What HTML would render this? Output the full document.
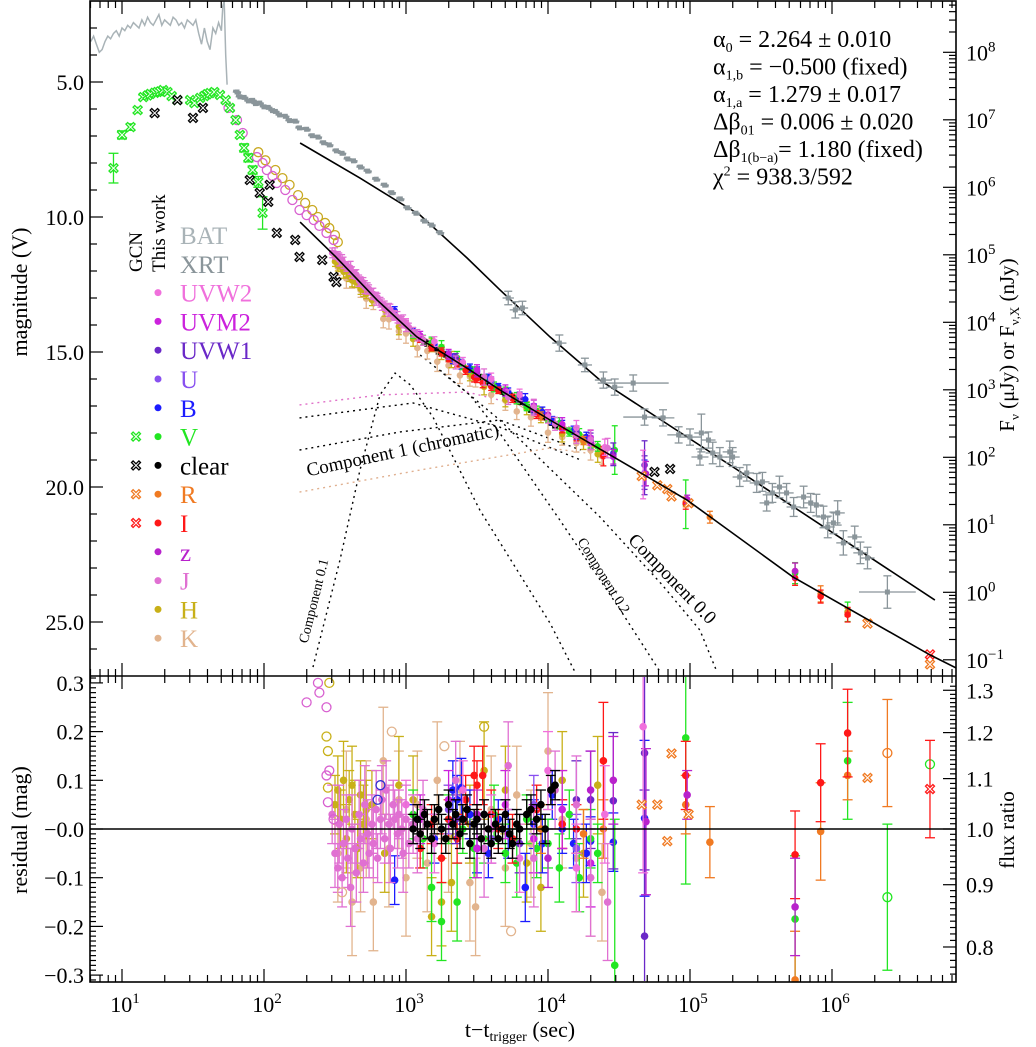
<!DOCTYPE html>
<html><head><meta charset="utf-8"><style>
html,body{margin:0;padding:0;background:#fff;overflow:hidden;width:1036px;height:1047px;}
svg{display:block;font-family:"Liberation Serif",serif;}
</style></head><body>
<svg id="chart" width="1036" height="1047" viewBox="0 0 1036 1047" xmlns="http://www.w3.org/2000/svg">
<defs>
<clipPath id="cm"><rect x="90" y="1" width="866" height="675"/></clipPath>
<clipPath id="cr"><rect x="90" y="676" width="866" height="306"/></clipPath>
</defs>
</svg>
<script>
// ---- data arrays (log10 t [s], magnitude) ----
const batT=[0.78,0.80,0.82,0.84,0.86,0.88,0.90,0.92,0.94,0.96,0.98,1.00,1.02,1.04,1.06,1.08,1.10,1.12,1.14,1.16,1.18,1.20,1.22,1.24,1.26,1.28,1.30,1.32,1.34,1.36,1.38,1.40,1.42,1.44,1.46,1.48,1.50,1.52,1.54,1.56,1.58,1.60,1.62,1.64,1.66,1.68,1.70,1.71,1.72,1.73,1.74];
const batM=[3.5,3.3,3.6,3.9,3.8,3.5,3.3,3.4,3.2,3.1,3.3,3.0,3.1,2.9,3.0,2.8,2.9,3.0,2.7,2.9,2.6,2.8,2.9,2.7,2.5,2.9,2.7,2.8,2.9,2.6,2.7,2.9,2.8,3.0,2.7,2.8,2.9,2.7,3.2,3.6,3.0,3.5,3.8,3.0,3.2,2.8,3.1,2.2,2.0,4.0,5.1];
const xrtT=[1.81,1.83,1.86,1.89,1.92,1.94,1.97,2.00,2.03,2.06,2.08,2.11,2.15,2.18,2.22,2.25,2.30,2.34,2.38,2.42,2.46,2.51,2.55,2.59,2.63,2.68,2.73,2.79,2.85,2.90,2.96,3.01,3.07,3.13,3.18,3.24,
 3.72,3.77,3.82,4.08,4.26,4.39,4.47,4.60,4.68,4.81,4.92,5.00,5.07,5.08,5.13,5.16,5.21,5.28,5.30,5.35,5.40,5.47,5.51,5.54,5.58,5.63,5.68,5.73,5.80,5.85,5.89,5.94,5.97,6.01,6.04,6.08,6.16,6.20,6.25,6.39];
const xrtM=[5.37,5.55,5.57,5.70,5.68,5.80,5.78,5.92,5.94,6.06,6.09,6.22,6.27,6.43,6.45,6.70,6.75,6.99,7.04,7.25,7.33,7.55,7.64,7.85,7.92,8.15,8.30,8.60,8.82,9.10,9.33,9.66,9.86,10.15,10.30,10.58,
 13.00,13.44,13.37,14.67,15.48,16.04,16.30,16.15,17.41,17.44,18.07,18.15,18.89,18.00,18.26,18.74,18.89,18.70,18.89,19.63,19.48,19.85,19.81,20.59,20.22,20.00,20.22,20.74,20.37,20.59,20.67,21.11,21.48,21.33,20.96,22.07,21.85,22.44,22.63,23.89];
const xrtE=[0.05,0.05,0.05,0.05,0.05,0.05,0.05,0.05,0.05,0.05,0.05,0.05,0.05,0.05,0.05,0.05,0.05,0.05,0.05,0.05,0.05,0.05,0.05,0.05,0.05,0.05,0.05,0.05,0.05,0.05,0.05,0.05,0.05,0.05,0.05,0.05,
 0.25,0.3,0.25,0.3,0.25,0.3,0.3,0.3,0.3,0.3,0.3,0.3,0.3,0.7,0.3,0.4,0.35,0.4,0.35,0.35,0.3,0.35,0.35,0.3,0.35,0.4,0.35,0.35,0.4,0.35,0.4,0.4,0.4,0.4,0.45,0.45,0.4,0.4,0.4,0.6];
const xrtXE=[0,0,0,0,0,0,0,0,0,0,0,0,0,0,0,0,0,0,0,0,0,0,0,0,0,0,0,0,0,0,0,0,0,0,0,0,
 0.04,0.04,0.04,0.05,0.05,0.06,0.06,0.25,0.15,0.08,0.08,0.08,0.06,0.05,0.05,0.05,0.05,0.05,0.05,0.05,0.05,0.05,0.05,0.05,0.05,0.05,0.05,0.05,0.05,0.05,0.05,0.05,0.05,0.05,0.05,0.05,0.05,0.05,0.05,0.2];
const modT=[2.254,2.50,2.796,3.077,3.451,3.662,4.014,4.437,4.979,5.725,6.690,6.873];
const modM=[10.19,11.45,13.07,14.44,15.67,16.41,17.52,18.81,20.48,23.33,26.22,26.70];
const xmodT=[2.254,2.676,3.099,3.430,3.662,4.014,4.366,5.303,6.007,6.725];
const xmodM=[7.26,8.56,9.93,11.52,12.70,14.44,16.04,19.26,21.70,24.19];
const c01T=[2.345,2.535,2.676,2.817,2.923,3.03,3.19,3.52,4.014,4.19];
const c01M=[26.67,22.70,19.37,16.59,15.78,16.22,17.41,20.85,25.04,26.85];
const c02T=[3.10,3.45,3.66,4.08,4.51,4.79];
const c02M=[15.11,16.59,18.00,21.20,24.56,26.85];
const c00T=[3.24,3.66,4.366,4.80,5.07,5.19];
const c00M=[15.67,17.52,21.11,23.6,25.3,26.85];
const c1pT=[2.25,2.82,3.43,3.94,4.37]; const c1pM=[16.96,16.59,16.48,17.15,18.44];
const c1aT=[2.25,3.05,3.66,4.23]; const c1aM=[17.44,16.89,17.78,19.0];
const c1bT=[2.25,2.96,3.66,4.23]; const c1bM=[18.63,17.96,17.52,18.63];
const c1kT=[2.25,3.10,4.01,4.37]; const c1kM=[20.19,19.37,18.56,18.81];
// GCN early V and clear
const gvT=[0.94,1.00,1.06,1.11,1.15,1.18,1.20,1.23,1.25,1.27,1.29,1.32,1.35,1.39,1.48,1.51,1.55,1.58,1.60,1.62,1.65,1.69,1.73,1.76,1.80,1.83,1.86,1.89,1.92,1.96,1.99];
const gvM=[8.19,6.96,6.67,6.04,5.56,5.50,5.44,5.40,5.37,5.35,5.30,5.37,5.52,5.67,5.67,5.78,5.59,5.52,5.45,5.41,5.37,5.48,5.67,5.96,6.41,6.96,7.44,7.81,8.26,8.70,9.85];
const gvE=[0.55,0.15,0.12,0.1,0.08,0.08,0.08,0.08,0.08,0.08,0.08,0.08,0.08,0.08,0.08,0.08,0.08,0.08,0.08,0.08,0.08,0.08,0.08,0.08,0.1,0.1,0.15,0.15,0.15,0.2,0.6];
const gcT=[1.23,1.39,1.50,1.57,1.90,1.97,2.04,2.03,2.09,2.22,2.25,2.41,2.49,2.51,4.75,4.86];
const gcM=[6.15,5.67,6.33,5.96,8.63,9.11,8.81,9.44,10.59,10.85,11.48,11.59,12.22,12.41,19.44,19.33];
// early open circles (This work)
const ojT=[1.75,1.81,1.85,1.95,1.99,2.02,2.06,2.09,2.15,2.20,2.25,2.30,2.35,2.39,2.44,2.49];
const ojM=[5.96,6.41,6.89,7.78,8.00,8.26,8.48,8.74,9.00,9.37,9.74,9.93,10.11,10.33,10.59,10.85];
const ohT=[1.96,2.01,2.08,2.13,2.18,2.24,2.29,2.34,2.38,2.43,2.46,2.50,2.52];
const ohM=[7.60,7.90,8.26,8.56,8.81,9.19,9.48,9.74,10.00,10.22,10.41,10.67,10.93];
// residual arrays per band (log t, residual mag, error)
const jT=[2.48,2.50,2.52,2.53,2.55,2.56,2.58,2.59,2.61,2.62,2.64,2.65,2.67,2.68,2.70,2.71,2.73,2.74,2.76,2.77,2.79,2.80,2.82,2.83,2.85,2.86,2.88,2.89,2.91,2.92,2.94,2.95,2.97,2.98,3.00,3.02,3.05,3.08,3.12,3.35,3.55,3.72,3.90,4.05,4.20,4.30,4.42];
const jR=[0.03,-0.05,-0.08,0.01,-0.10,-0.03,0.02,-0.06,-0.12,0.00,-0.04,-0.09,0.03,-0.02,-0.07,0.05,-0.01,-0.05,0.01,-0.03,0.04,-0.06,0.02,0.06,-0.02,0.08,0.01,-0.04,0.05,0.02,-0.01,0.03,0.00,-0.05,0.02,-0.03,0.01,-0.02,0.04,0.10,-0.04,0.13,-0.06,0.08,0.05,-0.10,-0.15];
const jE=[0.06,0.07,0.05,0.08,0.06,0.07,0.05,0.06,0.08,0.07,0.05,0.06,0.07,0.05,0.06,0.08,0.07,0.05,0.06,0.07,0.08,0.05,0.06,0.07,0.05,0.06,0.08,0.07,0.05,0.06,0.07,0.05,0.06,0.08,0.07,0.05,0.06,0.07,0.06,0.08,0.10,0.09,0.10,0.08,0.10,0.12,0.12];
const jOT=[2.30,2.38,2.39,2.44,2.44,2.46,2.45,2.49]; const jOR=[0.26,0.30,0.28,0.25,0.11,0.12,0.055,0.02];
const hT=[2.50,2.52,2.54,2.56,2.58,2.60,2.62,2.64,2.66,2.68,2.70,2.72,2.76,2.85,2.95,3.05,3.18,3.25,3.32,3.45,3.55,3.70,3.85,3.95,4.10,4.25,4.35];
const hR=[0.05,0.08,0.02,0.10,-0.02,0.06,0.09,0.03,-0.04,0.07,0.01,0.04,0.05,-0.05,0.09,0.06,-0.18,-0.15,-0.11,0.01,0.12,0.08,-0.07,-0.12,0.10,-0.05,0.09];
const hE=[0.06,0.07,0.06,0.08,0.07,0.06,0.08,0.07,0.06,0.07,0.08,0.06,0.07,0.08,0.10,0.09,0.08,0.09,0.10,0.08,0.10,0.09,0.08,0.09,0.10,0.09,0.10];
const hOT=[2.44,2.45,2.45,2.46,3.55]; const hOR=[0.19,0.16,0.085,0.30,0.21];
const kT=[2.52,2.58,2.62,2.68,2.72,2.77,2.84,2.88,2.95,3.00,3.08,3.15,3.22,3.30,3.38,3.45,3.49,3.60,3.70,3.78,3.88,4.00,4.10,4.20,4.30,4.38];
const kR=[-0.05,0.04,-0.15,-0.08,0.02,-0.15,0.14,-0.04,0.06,-0.10,0.05,-0.07,0.10,-0.02,0.08,-0.11,-0.16,0.04,-0.08,0.07,-0.03,0.16,0.02,-0.06,-0.10,-0.13];
const kE=[0.10,0.12,0.11,0.09,0.12,0.10,0.11,0.12,0.10,0.12,0.11,0.10,0.12,0.11,0.10,0.12,0.10,0.11,0.12,0.10,0.11,0.12,0.10,0.11,0.12,0.10];
const kOT=[2.55,2.90,3.27,3.74]; const kOR=[-0.13,0.20,0.17,-0.21];
const bT=[2.92,3.05,3.20,3.33,3.36,3.39,3.45,3.50,3.58,3.65,3.72,3.84,3.90,3.96,4.03,4.10,4.18,4.27,4.30,4.46,4.68];
const bR=[-0.105,0.01,-0.02,0.08,0.06,0.085,0.03,-0.04,-0.05,0.02,-0.01,-0.12,0.01,-0.03,0.07,0.0,-0.03,-0.05,-0.025,-0.027,0.022];
const bE=[0.05,0.04,0.05,0.06,0.05,0.06,0.05,0.05,0.05,0.04,0.05,0.07,0.05,0.06,0.05,0.05,0.05,0.06,0.05,0.06,0.16];
const bOT=[2.80,2.82]; const bOR=[0.06,0.09];
const cT=[3.05,3.08,3.10,3.13,3.15,3.18,3.20,3.23,3.25,3.28,3.30,3.33,3.35,3.38,3.40,3.43,3.45,3.48,3.50,3.53,3.55,3.58,3.60,3.63,3.65,3.68,3.70,3.73,3.75,3.78,3.80,3.85,3.88,3.92,3.95,3.98,4.02,4.05];
const cR=[0.00,0.02,-0.01,0.03,0.01,-0.02,0.02,0.04,0.00,-0.02,0.05,0.01,0.03,-0.01,0.02,0.04,-0.03,0.01,0.02,-0.02,0.03,0.00,-0.03,0.01,-0.02,0.00,0.03,-0.01,-0.03,0.01,0.00,0.03,0.04,0.02,0.05,0.00,0.08,0.09];
const iT=[3.10,3.18,3.25,3.30,3.36,3.42,3.48,3.50,3.54,3.60,3.65,3.75,3.92,4.10,4.20,4.39,4.97,5.74,5.92,6.11];
const iR=[-0.04,0.01,-0.06,0.02,-0.02,0.06,0.11,0.09,0.11,0.03,0.0,-0.02,0.04,0.01,0.0,0.14,0.11,-0.053,0.095,0.197];
const iE=[0.04,0.04,0.05,0.04,0.05,0.05,0.06,0.05,0.06,0.05,0.04,0.05,0.05,0.05,0.05,0.12,0.07,0.09,0.08,0.09];
const iXT=[6.69]; const iXR=[0.082];
const vT=[3.05,3.12,3.18,3.25,3.30,3.36,3.40,3.48,3.55,3.62,3.70,3.78,3.85,3.92,4.00,4.08,4.15,4.22,4.30,4.35,4.47,4.97,5.74,6.11];
const vR=[0.03,-0.02,-0.12,-0.19,0.02,-0.15,0.0,-0.04,-0.02,0.03,-0.05,-0.07,0.02,-0.04,-0.03,-0.08,0.03,-0.10,-0.02,-0.05,-0.28,0.187,-0.185,0.14];
const vE=[0.05,0.06,0.07,0.08,0.05,0.08,0.05,0.06,0.05,0.06,0.06,0.07,0.05,0.06,0.05,0.07,0.05,0.07,0.06,0.06,0.30,0.30,0.13,0.12];
const vOT=[6.39,6.69]; const vOR=[-0.14,0.133]; const vOE=[0.15,0.0];
const w1T=[3.35,3.80,4.20,4.30,4.46,4.68,4.68]; const w1R=[0.02,-0.03,0.06,0.06,0.058,0.156,-0.22]; const w1E=[0.05,0.06,0.08,0.10,0.14,0.24,0.30];
const zT=[3.50,4.00,4.30,4.46,4.69,4.98,5.74]; const zR=[0.03,-0.06,0.08,0.10,0.015,0.07,-0.16]; const zE=[0.05,0.06,0.08,0.09,0.15,0.05,0.10];
const w2T=[3.0,3.2,3.4,3.6,3.8,4.0,4.2,4.4,4.67]; const w2R=[0.05,-0.03,0.08,0.0,-0.06,0.12,-0.08,0.03,0.21]; const w2E=[0.05,0.06,0.06,0.07,0.07,0.08,0.09,0.10,0.30];
const m2T=[3.1,3.3,3.5,3.7,3.9,4.1,4.3]; const m2R=[0.02,0.06,-0.04,0.05,-0.02,0.04,-0.07]; const m2E=[0.05,0.06,0.06,0.07,0.07,0.08,0.09];
const uT=[3.3,3.6,3.9,4.2]; const uR=[0.04,-0.02,0.05,-0.04]; const uE=[0.05,0.05,0.06,0.07];
const rT=[3.95,4.10,4.25,4.39,4.97,5.14,5.74,5.92,6.11]; const rR=[0.0,0.01,-0.01,0.0,0.05,-0.027,-0.31,-0.005,0.11]; const rE=[0.05,0.05,0.05,0.06,0.06,0.073,0.1,0.1,0.05];
const rXT=[4.66,4.77,4.84,4.87,4.99,6.25,6.69]; const rXR=[0.05,0.05,-0.025,0.155,0.03,0.105,0.5];
const rOT=[6.39]; const rOR=[0.156]; const rOE=[0.11];
const magTicks=[5,10,15,20,25]; const magLabels=["5.0","10.0","15.0","20.0","25.0"];
const resTicks=[0.3,0.2,0.1,0,-0.1,-0.2,-0.3]; const resLabels=["0.3","0.2","0.1","\u22120.0","\u22120.1","\u22120.2","\u22120.3"];
const ratioTicks=[1.3,1.2,1.1,1.0,0.9,0.8]; const ratioLabels=["1.3","1.2","1.1","1.0","0.9","0.8"];
const fluxExp=[8,7,6,5,4,3,2,1,0,-1];
const decades=[1,2,3,4,5,6];

const NS="http://www.w3.org/2000/svg";
const svg=document.getElementById('chart');
const X=lt=>122+(lt-1)*142;
const YM=m=>82+(m-5)*27;
const YR=r=>829-r*487;
const clampY=(y,lo,hi)=>Math.max(lo,Math.min(hi,y));
function mk(tag,attrs,parent){const e=document.createElementNS(NS,tag);for(const k in attrs)e.setAttribute(k,attrs[k]);(parent||svg).appendChild(e);return e;}
function interp(ts,ms,t){if(t<=ts[0])return ms[0];for(let i=1;i<ts.length;i++){if(t<=ts[i]){const f=(t-ts[i-1])/(ts[i]-ts[i-1]);return ms[i-1]+f*(ms[i]-ms[i-1]);}}return ms[ms.length-1];}
const gMain=mk('g',{'clip-path':'url(#cm)'});


const gRes=mk('g',{'clip-path':'url(#cr)'});



function line(ts,ms,color,w,dash,name,yf,parent,lo,hi){
  let d='';for(let i=0;i<ts.length;i++)d+=(i?'L':'M')+X(ts[i]).toFixed(1)+','+clampY(yf(ms[i]),lo||0,hi||1040).toFixed(1);
  const p=mk('path',{d:d,fill:'none',stroke:color,'stroke-width':w,'stroke-dasharray':dash||'none'},parent);
  
  
  return p;
}
// error bar; caps hidden if clamped
function ebar(x,y1,y2,color,parent,cap,lo,hi){
  const a=clampY(y1,lo,hi),b=clampY(y2,lo,hi);
  mk('line',{x1:x,y1:a,x2:x,y2:b,stroke:color,'stroke-width':1.3},parent);
  if(a===y1) mk('line',{x1:x-cap,y1:a,x2:x+cap,y2:a,stroke:color,'stroke-width':1.3},parent);
  if(b===y2) mk('line',{x1:x-cap,y1:b,x2:x+cap,y2:b,stroke:color,'stroke-width':1.3},parent);
}
function xmark(x,y,color,parent){
  const s=4.5,t=1.6;
  const d=`M${x-s},${y-s+t}L${x-s+t},${y-s}L${x},${y-t}L${x+s-t},${y-s}L${x+s},${y-s+t}L${x+t},${y}L${x+s},${y+s-t}L${x+s-t},${y+s}L${x},${y+t}L${x-s+t},${y+s}L${x-s},${y+s-t}L${x-t},${y}Z`;
  return mk('path',{d:d,fill:'#fff',stroke:color,'stroke-width':1.3},parent);
}

// BAT
line(batT,batM,'#a9b3b7',1.5,null,'bat-curve',YM,gMain,1,676);
// XRT model
line(xmodT,xmodM,'#000',1.6,null,'xrt-model-line',YM,gMain,1,676);
// XRT points
const gX=mk('g',{},gMain);


for(let i=0;i<xrtT.length;i++){
  const x=X(xrtT[i]),y=YM(xrtM[i]);
  if(xrtE[i]>0.1) ebar(x,YM(xrtM[i]-xrtE[i]),YM(xrtM[i]+xrtE[i]),'#8a959a',gX,4,1,676);
  else mk('line',{x1:x-4,y1:y-1,x2:x+4,y2:y+1,stroke:'#8a959a','stroke-width':3},gX);
  if(xrtXE[i]>0){mk('line',{x1:X(xrtT[i]-xrtXE[i]),y1:y,x2:X(xrtT[i]+xrtXE[i]),y2:y,stroke:'#8a959a','stroke-width':1.3},gX);}
  mk('rect',{x:x-2.5,y:y-2.5,width:5,height:5,fill:'#8a959a'},gX);
}
// components
line(c01T,c01M,'#000',1.4,'2,4','component-0-1-curve',YM,gMain,1,676);
line(c02T,c02M,'#000',1.4,'2,4','component-0-2-curve',YM,gMain,1,676);
line(c00T,c00M,'#000',1.4,'2,4','component-0-0-curve',YM,gMain,1,676);
line(c1pT,c1pM,'#e070c8',1.4,'2,4','component-1-uv-curve',YM,gMain,1,676);
line(c1aT,c1aM,'#000',1.4,'2,4','component-1-optical-curve',YM,gMain,1,676);
line(c1bT,c1bM,'#000',1.4,'2,4','component-1-red-curve',YM,gMain,1,676);
line(c1kT,c1kM,'#e0b090',1.4,'2,4','component-1-ir-curve',YM,gMain,1,676);

// bands (clear drawn first in main panel so colours dominate)
const bands=[
 {n:'clear',T:cT,R:cR,E:cT.map(()=>0.03),c:'#000',off:0},
 {n:'k',T:kT,R:kR,E:kE,c:'#e2b48e',off:0.35},
 {n:'h',T:hT,R:hR,E:hE,c:'#c8b018',off:0.15},
 {n:'b',T:bT,R:bR,E:bE,c:'#1c1cff',off:-0.1},
 {n:'v',T:vT,R:vR,E:vE,c:'#22e622',off:0},
 {n:'r',T:rT,R:rR,E:rE,c:'#f07a22',off:0.05},
 {n:'i',T:iT,R:iR,E:iE,c:'#ff1818',off:0.05},
 {n:'u',T:uT,R:uR,E:uE,c:'#8850f0',off:-0.1},
 {n:'uvw1',T:w1T,R:w1R,E:w1E,c:'#6a28c8',off:-0.15},
 {n:'z',T:zT,R:zR,E:zE,c:'#b822cc',off:-0.1},
 {n:'uvm2',T:m2T,R:m2R,E:m2E,c:'#cc22dd',off:-0.15},
 {n:'uvw2',T:w2T,R:w2R,E:w2E,c:'#f070dc',off:-0.2},
 {n:'j',T:jT,R:jR,E:jE,c:'#e070d2',off:-0.05}
];
for(const b of bands){
  const ts=[3.0,3.3,3.6,3.9,4.2,4.4],ms=ts.map(t=>interp(modT,modM,t)+b.off*0.4);
  line(ts,ms,b.c,1.2,null,'model-'+b.n,YM,gMain,1,676);
}
for(const b of bands){
  const gm=mk('g',{},gMain);
  
  
  for(let i=0;i<b.T.length;i++){
    const x=X(b.T[i]);
    const m=interp(modT,modM,b.T[i])+b.off+b.R[i];
    ebar(x,YM(m-b.E[i]*3),YM(m+b.E[i]*3),b.c,gm,3,1,676);
    mk('circle',{cx:x,cy:YM(m),r:3.3,fill:b.c},gm);
  }
}
// residual panel: clear drawn last (on top)
const resOrder=bands.slice(1).concat([bands[0]]);
for(const b of resOrder){
  const gr=mk('g',{},gRes);
  
  
  for(let i=0;i<b.T.length;i++){
    const x=X(b.T[i]);
    ebar(x,YR(b.R[i]+b.E[i]),YR(b.R[i]-b.E[i]),b.c,gr,5,677,981);
    mk('circle',{cx:x,cy:YR(b.R[i]),r:3.8,fill:b.c},gr);
  }
}
// open circle residual sets
const openSets=[{T:jOT,R:jOR,c:'#d860d0'},{T:hOT,R:hOR,c:'#c8b018'},{T:kOT,R:kOR,c:'#e2b48e'},{T:bOT,R:bOR,c:'#3030d0'},{T:vOT,R:vOR,c:'#22e622'},{T:rOT,R:rOR,c:'#f07a22'}];
const gO=mk('g',{},gRes);


for(const s of openSets)for(let i=0;i<s.T.length;i++){
  mk('circle',{cx:X(s.T[i]),cy:YR(s.R[i]),r:4.5,fill:'none',stroke:s.c,'stroke-width':1.3},gO);
}
ebar(X(vOT[0]),YR(vOR[0]+vOE[0]),YR(vOR[0]-vOE[0]),'#22e622',gO,5,677,981);
ebar(X(rOT[0]),YR(rOR[0]+rOE[0]),YR(rOR[0]-rOE[0]),'#f07a22',gO,5,677,981);
for(let i=0;i<rXT.length;i++){const y=YR(rXR[i]);if(y>680) xmark(X(rXT[i]),y,'#f07a22',gO);}
for(let i=0;i<iXT.length;i++){ebar(X(iXT[0]),YR(iXR[0]+0.1),YR(iXR[0]-0.1),'#ff1818',gO,5,677,981);xmark(X(iXT[i]),YR(iXR[i]),'#ff1818',gO);}
// main panel late GCN R/I crosses
const gL=mk('g',{},gMain);


for(let i=0;i<rXT.length;i++){xmark(X(rXT[i]),YM(interp(modT,modM,rXT[i])+0.05+Math.min(rXR[i],0.3)),'#f07a22',gL);}
xmark(X(iXT[0]),YM(interp(modT,modM,iXT[0])+iXR[0]-0.1),'#ff1818',gL);

// early open circles main
const gE=mk('g',{},gMain);


for(let i=0;i<ohT.length;i++) mk('circle',{cx:X(ohT[i]),cy:YM(ohM[i]),r:4.5,fill:'none',stroke:'#c8a820','stroke-width':1.3},gE);
for(let i=0;i<ojT.length;i++) mk('circle',{cx:X(ojT[i]),cy:YM(ojM[i]),r:4.5,fill:'none',stroke:'#d860d0','stroke-width':1.3},gE);
// GCN V and clear
const gG=mk('g',{},gMain);


for(let i=0;i<gvT.length;i++){ebar(X(gvT[i]),YM(gvM[i]-gvE[i]),YM(gvM[i]+gvE[i]),'#22e622',gG,5,1,676);xmark(X(gvT[i]),YM(gvM[i]),'#22e622',gG);}
for(let i=0;i<gcT.length;i++) xmark(X(gcT[i]),YM(gcM[i]),'#000',gG);
// optical model line
line(modT,modM,'#000',1.6,null,'optical-model-line',YM,gMain,1,676);
// residual zero line
const zl=mk('line',{x1:90,y1:YR(0),x2:956,y2:YR(0),stroke:'#000','stroke-width':1.5});



// frames
const fr=mk('rect',{x:90,y:1,width:866,height:981,fill:'none',stroke:'#000','stroke-width':1.6});


mk('line',{x1:90,y1:676,x2:956,y2:676,stroke:'#000','stroke-width':1.6});

// ticks
const gT=mk('g',{stroke:'#000','stroke-width':1.2});


function tk(x1,y1,x2,y2){mk('line',{x1:x1,y1:y1,x2:x2,y2:y2},gT);}
for(let d=0;d<=6;d++)for(let k=1;k<10;k++){
  const lt=d+Math.log10(k);if(lt<0.775||lt>6.87)continue;
  const x=X(lt),L=k==1?13:7;
  tk(x,1,x,1+L);tk(x,676,x,676-L);tk(x,676,x,676+L);tk(x,982,x,982-L);
}
for(let m=3;m<=26;m++){const y=YM(m),L=m%5==0?13:7;tk(90,y,90+L,y);}
for(let e=-1;e<=8;e++)for(let k=1;k<10;k++){
  const m=23.9-2.5*(e+Math.log10(k));const y=YM(m);if(y<2||y>675)continue;
  tk(956,y,956-(k==1?13:7),y);
}
for(let r=-31;r<=31;r++){const y=YR(r/100);tk(90,y,90+(r%10==0?13:6),y);}
for(let q=76;q<=131;q++){const f=q/100;const r=2.5*Math.log10(f);const y=YR(r);if(y<677||y>981)continue;tk(956,y,956-(q%10==0?13:6),y);}

// labels
const gLab=mk('g',{'font-size':22,fill:'#000'});


function txt(x,y,s,anchor,size,parent){const t=mk('text',{x:x,y:y,'text-anchor':anchor||'start','font-size':size||22},parent||gLab);t.textContent=s;return t;}
magTicks.forEach((m,i)=>txt(84,YM(m)+8,magLabels[i],'end'));
resTicks.forEach((r,i)=>txt(84,YR(r)+8,resLabels[i],'end'));
ratioTicks.forEach((f,i)=>txt(966,YR(2.5*Math.log10(f))+8,ratioLabels[i],'start'));
fluxExp.forEach(e=>{const t=txt(966,YM(23.9-2.5*e)+8,'10','start');const s=mk('tspan',{dy:-9,'font-size':15},t);s.textContent=e<0?'\u2212'+(-e):String(e);});
decades.forEach(d=>{const t=txt(X(d)+3,1012,'10','middle');const s=mk('tspan',{dy:-9,'font-size':15},t);s.textContent=String(d);});

// axis titles
const t1=mk('text',{x:0,y:0,'font-size':22,'text-anchor':'middle',transform:'translate(27,292) rotate(-90)'});
t1.textContent='magnitude (V)';


const t2=mk('text',{x:0,y:0,'font-size':22,'text-anchor':'middle',transform:'translate(27,830) rotate(-90)'});
t2.textContent='residual (mag)';


const t3=mk('text',{x:0,y:0,'font-size':21,'text-anchor':'middle',transform:'translate(1014,345) rotate(-90)'});
t3.innerHTML='F<tspan font-size="13" dy="5">\u03bd</tspan><tspan dy="-5"> (\u03bcJy)   or   F</tspan><tspan font-size="13" dy="5">\u03bd,X</tspan><tspan dy="-5"> (nJy)</tspan>';


const t4=mk('text',{x:0,y:0,'font-size':21,'text-anchor':'middle',transform:'translate(1014,830) rotate(-90)'});
t4.textContent='flux ratio';


const t5=mk('text',{x:520,y:1037,'font-size':22,'text-anchor':'middle'});
t5.innerHTML='t\u2212t<tspan font-size="14" dy="4">trigger</tspan><tspan dy="-4"> (sec)</tspan>';



// stats
const stats=[['\u03b1','0',' = 2.264 \u00b1 0.010'],['\u03b1','1,b',' = \u22120.500 (fixed)'],['\u03b1','1,a',' = 1.279 \u00b1 0.017'],['\u0394\u03b2','01',' = 0.006 \u00b1 0.020'],['\u0394\u03b2','1(b\u2212a)','= 1.180 (fixed)'],['\u03c7','',' = 938.3/592']];
const gS=mk('g',{'font-size':24});


stats.forEach((s,i)=>{const t=mk('text',{x:713,y:47+i*27.5},gS);t.textContent=s[0];
 if(i==5){const p=mk('tspan',{dy:-9,'font-size':14},t);p.textContent='2';const q=mk('tspan',{dy:9},t);q.textContent=s[2];}
 else{const p=mk('tspan',{dy:5,'font-size':14},t);p.textContent=s[1];const q=mk('tspan',{dy:-5},t);q.textContent=s[2];}});

// component labels
function rlab(x,y,a,s,size,name){const t=mk('text',{x:0,y:0,'font-size':size,'text-anchor':'middle',transform:`translate(${x},${y}) rotate(${a})`});t.textContent=s;}
rlab(404,456,-12,'Component 1 (chromatic)',19,'component-1-label');
rlab(318,602,-76,'Component 0.1',14,'component-0-1-label');
rlab(600,578,58,'Component 0.2',14,'component-0-2-label');
rlab(668,583,46,'Component 0.0',19,'component-0-0-label');

// legend
const gLeg=mk('g',{});


const h1=mk('text',{x:0,y:0,'font-size':19,transform:'translate(142,272) rotate(-90)'},gLeg);h1.textContent='GCN';
const h2=mk('text',{x:0,y:0,'font-size':19,transform:'translate(165,272) rotate(-90)'},gLeg);h2.textContent='This work';
const legNames=['BAT','XRT','UVW2','UVM2','UVW1','U','B','V','clear','R','I','z','J','H','K'];
const legColors=['#a9b3b7','#8a959a','#f070dc','#cc22dd','#6a28c8','#8850f0','#1c1cff','#22e622','#000','#f07a22','#ff1818','#b822cc','#e070d2','#c8b018','#e2b48e'];
const legGcn=[false,false,false,false,false,false,false,true,true,true,true,false,false,false,false];
legNames.forEach((n,i)=>{
  const y=235+i*28.8;
  const g=mk('g',{},gLeg);
  
  
  if(i>=2) mk('circle',{cx:158,cy:y,r:3.5,fill:legColors[i]},g);
  if(legGcn[i]) xmark(136,y,legColors[i],g);
  const t=mk('text',{x:180,y:y+9,'font-size':25,fill:legColors[i]},g);t.textContent=n;
});
</script>
</body></html>
